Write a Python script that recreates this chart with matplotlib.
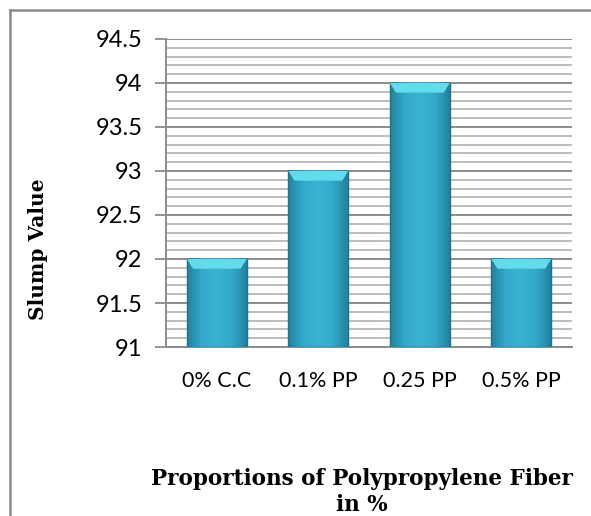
import numpy as np
import matplotlib
matplotlib.use('Agg')
import matplotlib.pyplot as plt
from matplotlib.colors import LinearSegmentedColormap
from matplotlib.lines import Line2D
from matplotlib.patches import Polygon

# data
categories = ['0% C.C', '0.1% PP', '0.25 PP', '0.5% PP']
slump = [92, 93, 94, 92]
y_ticks = [91, 91.5, 92, 92.5, 93, 93.5, 94, 94.5]
y_labels = ['91', '91.5', '92', '92.5', '93', '93.5', '94', '94.5']

fig = plt.figure(figsize=(5.91, 5.16), dpi=100)
ax = fig.add_axes([0.281, 0.3275, 0.687, 0.597])

ymin, ymax = 91, 94.5
x = np.arange(len(categories))
w = 0.59

# gridlines
ax.set_yticks(y_ticks)
ax.set_yticks(np.arange(91, 94.51, 0.1), minor=True)
ax.yaxis.grid(True, which='minor', color='#b8b8b8', lw=1.3)
ax.yaxis.grid(True, which='major', color='#8c8c8c', lw=1.4)
ax.set_axisbelow(True)

# bars with a bevel look
shade = LinearSegmentedColormap.from_list('bar', ['#22839c', '#33aacb', '#3ab2d1', '#33aacb', '#22839c'])
grad = np.linspace(0, 1, 60).reshape(1, -1)
for xi, v in zip(x, slump):
    ax.imshow(grad, cmap=shade, aspect='auto', extent=[xi - w/2, xi + w/2, ymin, v],
              zorder=3, interpolation='bicubic')
    ax.add_patch(plt.Rectangle((xi - w/2, ymin), w, v - ymin, fill=False,
                               edgecolor='#1d7389', lw=1.0, zorder=4))
    bx, by = 0.06, 0.11
    top = Polygon([[xi - w/2, v], [xi + w/2, v], [xi + w/2 - bx, v - by], [xi - w/2 + bx, v - by]],
                  closed=True, facecolor='#62dbee', edgecolor='none', zorder=4)
    ax.add_patch(top)

ax.set_xlim(-0.5, len(categories) - 0.5)
ax.set_ylim(ymin, ymax)
ax.set_xticks(x)
ax.set_xticklabels(categories, fontfamily='Lato', fontsize=15.5)
ax.set_yticklabels(y_labels, fontfamily='Lato', fontsize=17)
ax.tick_params(axis='x', length=0, pad=17)
ax.tick_params(axis='y', which='major', length=8, width=1.3, color='#8c8c8c', pad=9)
ax.tick_params(axis='y', which='minor', length=0)

for s in ['top', 'right']:
    ax.spines[s].set_visible(False)
for s in ['left', 'bottom']:
    ax.spines[s].set_color('#8c8c8c')
    ax.spines[s].set_linewidth(1.4)

fig.text(0.064, 0.517, 'Slump Value', rotation=90, ha='center', va='center',
         fontfamily='DejaVu Serif', fontweight='bold', fontsize=14.5)
fig.text(0.613, 0.046, 'Proportions of Polypropylene Fiber\nin %', ha='center', va='center',
         fontfamily='DejaVu Serif', fontweight='bold', fontsize=15.5, linespacing=1.25)

# outer chart border (top and left only visible)
fig.add_artist(Line2D([10/591, 1], [1 - 10/516, 1 - 10/516], color='#8a8a8a', lw=1.8))
fig.add_artist(Line2D([10/591, 10/591], [0, 1 - 10/516], color='#8a8a8a', lw=1.8))

fig.savefig('out.png', dpi=100)
